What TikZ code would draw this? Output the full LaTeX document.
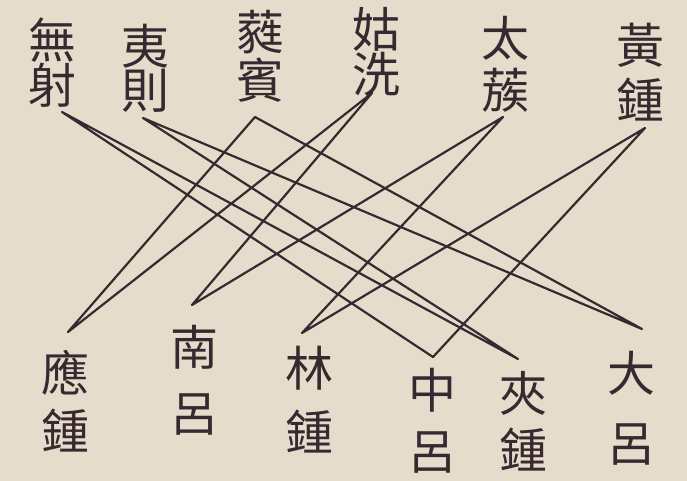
\documentclass[tikz,border=0pt]{standalone}
\usepackage{fontspec}
\newfontfamily\cjk{Noto Sans CJK TC}
\definecolor{paper}{RGB}{229,221,204}
\definecolor{ink}{RGB}{58,40,48}

\begin{document}
\begin{tikzpicture}[x=1pt, y=-1pt,
    lab/.style={font=\cjk\fontsize{48}{#1}\selectfont, text=ink, align=center, inner sep=0pt},
    wire/.style={draw=ink, line width=2.2pt, line join=round}]
    \fill[paper] (0,0) rectangle (687,481);
    \useasboundingbox (0,0) rectangle (687,481);
    % upper row
    \node[lab=43] (wuyi) at (52, 63) {無\\射};
    \node[lab=44] (yize) at (145, 68) {夷\\則};
    \node[lab=48] (ruibin) at (260, 56) {蕤\\賓};
    \node[lab=40] (guxian) at (376, 52) {姑\\洗};
    \node[lab=52] (taicu) at (505, 64) {太\\蔟};
    \node[lab=55] (huangzhong) at (640, 72) {黃\\鍾};
    % lower row
    \node[lab=58] (yingzhong) at (65, 401) {應\\鍾};
    \node[lab=66] (nanlu) at (194, 380) {南\\呂};
    \node[lab=64] (linzhong) at (309, 400) {林\\鍾};
    \node[lab=61] (zhonglu) at (432, 421) {中\\呂};
    \node[lab=57] (jiazhong) at (523, 421) {夾\\鍾};
    \node[lab=70] (dalu) at (631, 408) {大\\呂};
    % apexes
    \coordinate (wuyi-p) at (62, 112);
    \coordinate (yize-p) at (143, 118);
    \coordinate (ruibin-p) at (255, 117);
    \coordinate (guxian-p) at (372, 93);
    \coordinate (taicu-p) at (503, 117);
    \coordinate (huangzhong-p) at (645, 128);
    \coordinate (yingzhong-p) at (68, 332);
    \coordinate (nanlu-p) at (192, 305);
    \coordinate (linzhong-p) at (302, 333);
    \coordinate (zhonglu-p) at (433, 357);
    \coordinate (jiazhong-p) at (518, 359);
    \coordinate (dalu-p) at (642, 329);
    % cycle of generation
    \draw[wire] (huangzhong-p) -- (linzhong-p) -- (taicu-p) -- (nanlu-p)
        -- (guxian-p) -- (yingzhong-p) -- (ruibin-p) -- (dalu-p)
        -- (yize-p) -- (jiazhong-p) -- (wuyi-p) -- (zhonglu-p) -- cycle;
\end{tikzpicture}
\end{document}
